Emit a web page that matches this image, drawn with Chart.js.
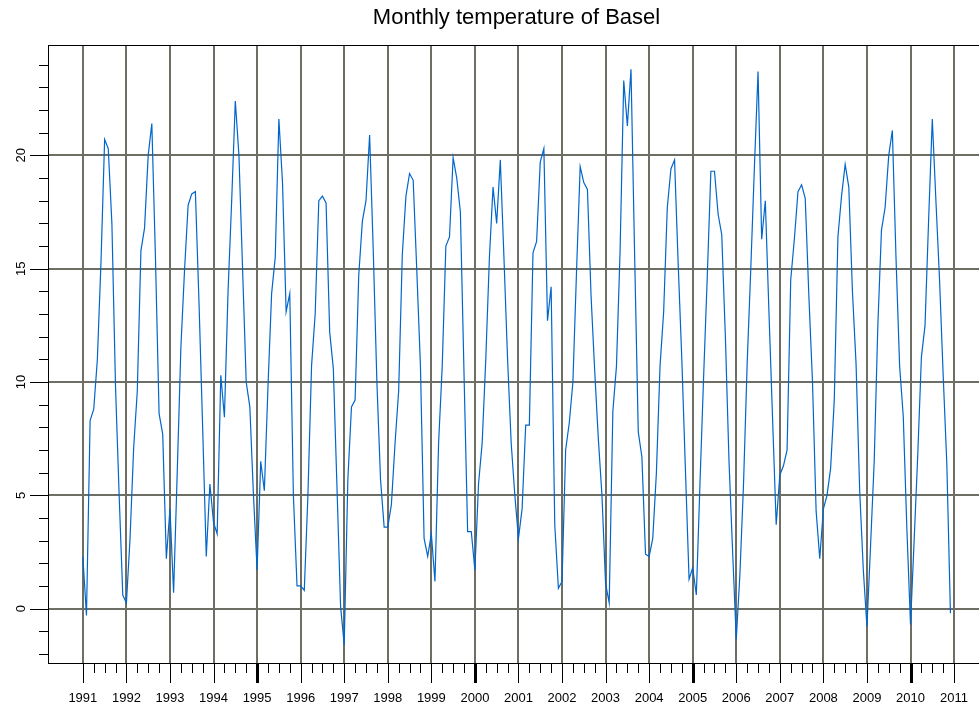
<!DOCTYPE html>
<html>
<head>
<meta charset="utf-8">
<title>Monthly temperature of Basel</title>
<script src="https://cdn.jsdelivr.net/npm/chart.js@4.4.0/dist/chart.umd.min.js"></script>
<style>
  html, body { margin: 0; padding: 0; background: #fff; overflow: hidden; }
  #wrap { width: 979px; height: 708px; overflow: hidden; }
</style>
</head>
<body>
<div id="wrap"><canvas id="chart" width="990" height="708"></canvas></div>
<script>
// monthly mean temperature, one row per year, Jan..Dec
const firstYear = 1991;
const temperature = [
  2.3, -0.3, 8.3, 8.8, 11.0, 15.3, 20.7, 20.3, 17.0, 9.8, 5.0, 0.6,     // 1991
  0.25, 3.1, 7.1, 9.6, 15.8, 16.8, 20.0, 21.4, 15.5, 8.6, 7.7, 2.2,     // 1992
  4.4, 0.7, 6.0, 11.5, 14.9, 17.8, 18.3, 18.4, 13.5, 8.0, 2.3, 5.5,     // 1993
  3.8, 3.3, 10.3, 8.45, 14.0, 18.0, 22.4, 20.0, 15.0, 10.0, 8.9, 5.0,   // 1994
  1.7, 6.5, 5.2, 9.8, 13.9, 15.5, 21.6, 18.8, 13.1, 13.9, 5.0, 1.0,     // 1995
  1.0, 0.8, 5.0, 10.7, 13.0, 18.0, 18.2, 17.9, 12.2, 10.6, 5.4, 0.1,    // 1996
  -1.6, 5.7, 8.9, 9.2, 14.7, 17.1, 18.0, 20.9, 15.8, 10.0, 5.7, 3.6,    // 1997
  3.6, 4.6, 7.3, 9.6, 15.6, 18.2, 19.2, 18.9, 14.9, 10.7, 3.1, 2.3,     // 1998
  3.3, 1.2, 7.3, 10.7, 16.0, 16.4, 19.9, 19.0, 17.5, 10.4, 3.4, 3.4,    // 1999
  1.7, 5.5, 7.3, 11.0, 15.5, 18.6, 17.0, 19.8, 15.5, 11.0, 7.3, 5.0,    // 2000
  3.1, 4.4, 8.1, 8.1, 15.7, 16.2, 19.7, 20.3, 12.7, 14.2, 3.7, 0.9,     // 2001
  1.2, 7.0, 8.2, 10.0, 14.9, 19.5, 18.8, 18.5, 13.8, 10.5, 7.5, 5.0,    // 2002
  1.1, 0.25, 8.7, 10.7, 15.8, 23.3, 21.3, 23.8, 15.6, 7.8, 6.7, 2.4,    // 2003
  2.3, 3.1, 6.0, 10.7, 13.1, 17.7, 19.4, 19.8, 15.2, 11.0, 6.1, 1.3,    // 2004
  1.8, 0.6, 5.5, 10.2, 14.6, 19.3, 19.3, 17.4, 16.5, 12.0, 6.5, 2.5,    // 2005
  -1.35, 1.5, 5.5, 10.8, 15.0, 19.5, 23.7, 16.3, 18.0, 13.1, 8.4, 3.7,  // 2006
  5.9, 6.3, 7.0, 14.5, 16.3, 18.4, 18.7, 18.1, 13.8, 10.0, 4.3, 2.2,    // 2007
  4.4, 5.0, 6.2, 9.2, 16.4, 18.2, 19.6, 18.6, 14.0, 10.8, 5.2, 1.7,     // 2008
  -0.8, 2.8, 6.5, 12.5, 16.7, 17.7, 20.0, 21.1, 15.5, 10.7, 8.5, 3.5,   // 2009
  -0.7, 3.0, 6.8, 11.1, 12.5, 17.2, 21.6, 18.0, 14.5, 10.3, 6.4, -0.2   // 2010
];

const yearTicks = [1991, 1992, 1993, 1994, 1995, 1996, 1997, 1998, 1999, 2000,
                   2001, 2002, 2003, 2004, 2005, 2006, 2007, 2008, 2009, 2010, 2011];
const tempTicks = [0, 5, 10, 15, 20];
const xLimits = [1990.2, 2011.71];
const yLimits = [-2.4, 24.87];

const titleText = 'Monthly temperature of Basel';
const gridColor = '#6e6e64';
const fontFamily = '"Liberation Sans", Arial, Helvetica, sans-serif';

const points = temperature.map((t, i) => ({ x: firstYear + i / 12, y: t }));

// tick marks, frame, rotated y labels and the title
const axisDecor = {
  id: 'axisDecor',
  afterDraw(chart) {
    const { ctx, chartArea: a, scales: { x, y } } = chart;
    ctx.save();
    ctx.strokeStyle = '#000';

    // quarter ticks, years longer, every fifth year heavier
    const lo = yearTicks[0] * 4, hi = yearTicks[yearTicks.length - 1] * 4;
    for (let q = lo; q <= hi; q++) {
      const yr = q / 4;
      const isYear = q % 4 === 0;
      const px = Math.round(x.getPixelForValue(yr)) + 0.5;
      ctx.lineWidth = isYear && yr % 5 === 0 ? 3 : 1;
      ctx.beginPath();
      ctx.moveTo(px, a.bottom);
      ctx.lineTo(px, a.bottom + (isYear ? 20 : 10));
      ctx.stroke();
    }

    // unit ticks on the left axis
    ctx.lineWidth = 1;
    for (let v = Math.ceil(y.min); v <= Math.floor(y.max); v++) {
      const py = Math.round(y.getPixelForValue(v)) + 0.5;
      ctx.beginPath();
      ctx.moveTo(a.left, py);
      ctx.lineTo(a.left - (v % 5 === 0 ? 18 : 9), py);
      ctx.stroke();
    }

    // frame
    ctx.strokeRect(Math.round(a.left) + 0.5, Math.round(a.top) + 0.5,
                   Math.round(a.right - a.left), Math.round(a.bottom - a.top));

    // y labels read bottom to top
    ctx.fillStyle = '#000';
    ctx.font = '13px ' + fontFamily;
    ctx.textAlign = 'center';
    ctx.textBaseline = 'middle';
    tempTicks.forEach(v => {
      ctx.save();
      ctx.translate(a.left - 27, y.getPixelForValue(v));
      ctx.rotate(-Math.PI / 2);
      ctx.fillText(String(v), 0, 0);
      ctx.restore();
    });

    // title centred over the plot region
    ctx.font = '22px ' + fontFamily;
    ctx.fillText(titleText, (a.left + a.right) / 2, 18);
    ctx.restore();
  }
};

new Chart(document.getElementById('chart'), {
  type: 'line',
  data: {
    datasets: [{
      data: points,
      borderColor: '#0066cc',
      borderWidth: 1.2,
      pointRadius: 0,
      tension: 0,
      fill: false
    }]
  },
  options: {
    responsive: false,
    animation: false,
    devicePixelRatio: 1,
    layout: { padding: { top: 45, right: 5, left: 0, bottom: 0 } },
    plugins: { legend: { display: false }, tooltip: { enabled: false } },
    scales: {
      x: {
        type: 'linear',
        min: xLimits[0],
        max: xLimits[1],
        afterBuildTicks: s => { s.ticks = yearTicks.map(v => ({ value: v })); },
        afterFit: s => { s.height = 45; },
        grid: {
          color: gridColor,
          lineWidth: 2,
          drawTicks: true,
          tickLength: 26,
          tickColor: 'rgba(0,0,0,0)'
        },
        border: { display: false },
        ticks: {
          autoSkip: false,
          maxRotation: 0,
          padding: 2,
          color: '#000',
          font: { family: fontFamily, size: 13 },
          callback: v => String(v)
        }
      },
      y: {
        type: 'linear',
        min: yLimits[0],
        max: yLimits[1],
        afterBuildTicks: s => { s.ticks = tempTicks.map(v => ({ value: v })); },
        afterFit: s => { s.width = 48; },
        grid: { color: gridColor, lineWidth: 2, drawTicks: false },
        border: { display: false },
        ticks: { display: false }
      }
    }
  },
  plugins: [axisDecor]
});
</script>
</body>
</html>
